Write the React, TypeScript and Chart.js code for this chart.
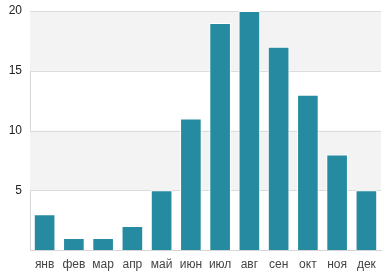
import React, { useEffect, useRef } from "react";
import { Chart, registerables } from "chart.js";

Chart.register(...registerables);

const categories = ["янв", "фев", "мар", "апр", "май", "июн", "июл", "авг", "сен", "окт", "ноя", "дек"];
const values = [3, 1, 1, 2, 5, 11, 19, 20, 17, 13, 8, 5];
const yTicks = [5, 10, 15, 20];
const bands = [
  [5, 10],
  [15, 20],
];

const bandPlugin = {
  id: "bands",
  beforeDatasetsDraw(chart: any) {
    const { ctx, chartArea, scales } = chart;
    const y = scales.y;
    ctx.save();
    ctx.fillStyle = "#f3f3f3";
    for (const [a, b] of bands) {
      const top = y.getPixelForValue(b);
      const bot = y.getPixelForValue(a);
      ctx.fillRect(chartArea.left, top, chartArea.right - chartArea.left, bot - top);
    }
    ctx.strokeStyle = "#dcdcdc";
    ctx.lineWidth = 1;
    for (const t of yTicks) {
      const py = Math.round(y.getPixelForValue(t)) + 0.5;
      ctx.beginPath();
      ctx.moveTo(chartArea.left, py);
      ctx.lineTo(chartArea.right, py);
      ctx.stroke();
    }
    ctx.restore();
  },
};

export default function App() {
  const ref = useRef<HTMLCanvasElement>(null);
  useEffect(() => {
    document.body.style.margin = "0";
    const chart = new Chart(ref.current!, {
      type: "bar",
      data: {
        labels: categories,
        datasets: [
          {
            data: values,
            backgroundColor: "#268ba0",
            borderColor: "#ffffff",
            borderWidth: 1,
            borderSkipped: "bottom",
            categoryPercentage: 1,
            barPercentage: 0.74,
          },
        ],
      },
      options: {
        animation: false,
        responsive: false,
        layout: { padding: { top: 11, right: 1, left: 0, bottom: 0 } },
        plugins: { legend: { display: false }, tooltip: { enabled: false } },
        scales: {
          x: {
            grid: { display: false, drawTicks: false },
            border: { display: true, color: "#d6d6d6" },
            ticks: {
              color: "#444",
              padding: 7,
              maxRotation: 0,
              autoSkip: false,
              font: { family: "Liberation Sans, Arial, sans-serif", size: 12 },
            },
            afterFit(scale: any) {
              scale.height = 30;
              scale.paddingLeft = 0;
              scale.paddingRight = 0;
            },
          },
          y: {
            min: 0,
            max: 20,
            afterBuildTicks(scale: any) {
              scale.ticks = yTicks.map((v) => ({ value: v }));
            },
            grid: { display: false, drawTicks: false },
            border: { display: true, color: "#d6d6d6" },
            ticks: {
              color: "#222",
              padding: 8,
              font: { family: "Liberation Sans, Arial, sans-serif", size: 12 },
            },
            afterFit(scale: any) {
              scale.width = 30;
              scale.paddingTop = 0;
              scale.paddingBottom = 0;
            },
          },
        },
      },
      plugins: [bandPlugin],
    });
    return () => chart.destroy();
  }, []);
  return <canvas ref={ref} width={382} height={280} style={{ display: "block" }} />;
}
